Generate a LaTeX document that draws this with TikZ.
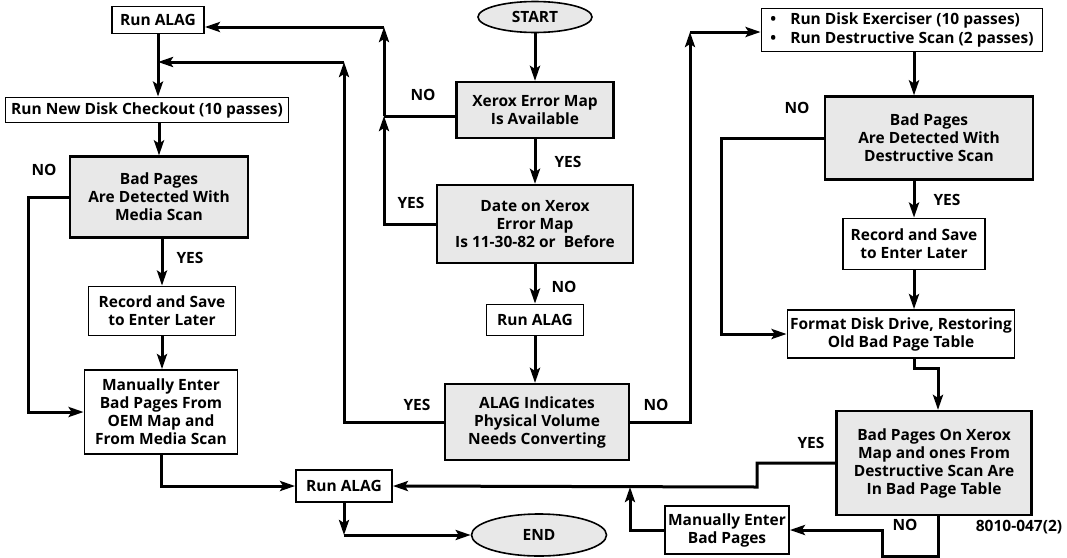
\documentclass[tikz,border=0pt]{standalone}
\usepackage{fontspec}
\setmainfont{Open Sans}
\usetikzlibrary{arrows.meta,shapes.geometric}

\begin{document}
\begin{tikzpicture}[x=1pt, y=-1pt,
		every node/.style={font=\fontsize{15.5}{18}\selectfont\bfseries},
		proc/.style={draw, line width=1.8pt, align=center, inner sep=2pt},
		test/.style={proc, fill=gray!18, line width=2.2pt},
		term/.style={ellipse, draw, line width=1.6pt, fill=gray!18, inner sep=0pt},
		flow/.style={line width=3pt, -{Stealth[length=15pt,width=10pt,inset=3pt]}},
		link/.style={line width=3pt},
		lbl/.style={inner sep=0pt}]
		\useasboundingbox (0,0) rectangle (1067,557);

		% middle column
		\node (start) [term, minimum width=114pt, minimum height=31pt] at (535,17) {START};
		\node (errmap) [test, minimum width=157pt, minimum height=56pt] at (535,110) {Xerox Error Map\\Is Available};
		\node (datechk) [test, minimum width=196pt, minimum height=78pt] at (535,224) {Date on Xerox\\Error Map\\Is 11-30-82 or\ \ Before};
		\node (alagB) [proc, minimum width=97pt, minimum height=31pt] at (535,320) {Run ALAG};
		\node (convert) [test, minimum width=184pt, minimum height=76pt] at (537,422) {ALAG Indicates\\Physical Volume\\Needs Converting};
		\node (alagC) [proc, minimum width=96pt, minimum height=32pt] at (344,486) {Run ALAG};
		\node (endN) [term, minimum width=135pt, minimum height=42pt] at (539,535) {END};

		% left column
		\node (alagA) [proc, minimum width=92pt, minimum height=27pt] at (158,20) {Run ALAG};
		\node (checkout) [proc, minimum width=283pt, minimum height=25pt] at (147,110) {Run New Disk Checkout (10 passes)};
		\node (mediascan) [test, minimum width=178pt, minimum height=81pt] at (159,197) {Bad Pages\\Are Detected With\\Media Scan};
		\node (recordL) [proc, minimum width=147pt, minimum height=49pt] at (162,311) {Record and Save\\to Enter Later};
		\node (manualL) [proc, minimum width=153pt, minimum height=84pt] at (161,412) {Manually Enter\\Bad Pages From\\OEM Map and\\From Media Scan};

		% right column
		\node (exercise) [proc, minimum width=281pt, minimum height=43pt] at (902,30) {%
			\begin{tabular}{@{}l@{\hspace{14pt}}l@{}}
				\textbullet & Run Disk Exerciser (10 passes) \\[1pt]
				\textbullet & Run Destructive Scan (2 passes)
			\end{tabular}};
		\node (destscan) [test, minimum width=208pt, minimum height=83pt] at (929,138) {Bad Pages\\Are Detected With\\Destructive Scan};
		\node (recordR) [proc, minimum width=142pt, minimum height=51pt] at (914,244) {Record and Save\\to Enter Later};
		\node (format) [proc, minimum width=227pt, minimum height=48pt] at (901,334) {Format Disk Drive, Restoring\\Old Bad Page Table};
		\node (xeroxtbl) [test, minimum width=195pt, minimum height=104pt] at (934,463) {Bad Pages On Xerox\\Map and ones From\\Destructive Scan Are\\In Bad Page Table};
		\node (manualR) [proc, minimum width=124pt, minimum height=48pt] at (727,530) {Manually Enter\\Bad Pages};

		% branch labels
		\node (noErr) [lbl] at (423,95) {NO};
		\node (yesErr) [lbl] at (568,162) {YES};
		\node (yesDate) [lbl] at (411,203) {YES};
		\node (noDate) [lbl] at (564,287) {NO};
		\node (yesConv) [lbl] at (417,405) {YES};
		\node (noConv) [lbl] at (656,405) {NO};
		\node (noMedia) [lbl] at (44,170) {NO};
		\node (yesMedia) [lbl] at (190,258) {YES};
		\node (noDest) [lbl] at (797,108) {NO};
		\node (yesDest) [lbl] at (947,200) {YES};
		\node (yesTbl) [lbl] at (811,443) {YES};
		\node (noTbl) [lbl] at (905,525) {NO};
		\node (figno) [lbl] at (1019,527) {8010-047(2)};

		% corners and joints
		\coordinate (jErr) at (384,116);
		\coordinate (cErr) at (384,27);
		\coordinate (cConv) at (344,62);
		\coordinate (cExer) at (690,32);
		\coordinate (jBot) at (757,487);
		\coordinate (jMan) at (630,487);
		\coordinate (cEnd) at (344,535);

		% middle
		\draw[flow] (start) -- (errmap);
		\draw[flow] (errmap) -- (datechk);
		\draw[flow] (datechk) -- (alagB);
		\draw[flow] (alagB) -- (alagB |- convert.north);
		\draw[link] (errmap.west |- jErr) -- (jErr);
		\draw[flow] (datechk.west) -| (jErr);
		\draw[flow] (jErr) -- (cErr);
		\draw[flow] (cErr) -- (alagA.east |- cErr);
		\draw[flow] (convert.west) -| (cConv);
		\draw[flow] (cConv) -- (alagA.south |- cConv);
		\draw[flow] (convert.east) -| (cExer);
		\draw[flow] (cExer) -- (exercise.west |- cExer);

		% left
		\draw[flow] (alagA) -- (alagA |- checkout.north);
		\draw[flow] (checkout.south -| mediascan) -- (mediascan);
		\draw[flow] (mediascan.south -| recordL) -- (recordL);
		\draw[flow] (recordL) -- (recordL |- manualL.north);
		\draw[flow] (mediascan.west) -- ++(-40,0) |- (manualL.west);
		\draw[flow] (manualL.south) |- (alagC.west);
		\draw[flow] (alagC) -- (cEnd);
		\draw[flow] (cEnd) -- (endN.west);

		% right
		\draw[flow] (exercise.south -| recordR) -- (destscan.north -| recordR);
		\draw[flow] (destscan.south -| recordR) -- (recordR);
		\draw[flow] (recordR) -- (recordR |- format.north);
		\draw[flow] (destscan.west) -- ++(-102,0) |- (format.west);
		\draw[flow] (format.south -| recordR) -- ++(0,10) -| ([xshift=4pt]xeroxtbl.north);
		\draw[flow] (xeroxtbl.west) -| (jBot) -- (alagC.east);
		\draw[flow] ([xshift=4pt]xeroxtbl.south) -- ++(0,40) -- ++(-56,0) |- (manualR.east);
		\draw[flow] (manualR.west) -| (jMan);
	\end{tikzpicture}
\end{document}
